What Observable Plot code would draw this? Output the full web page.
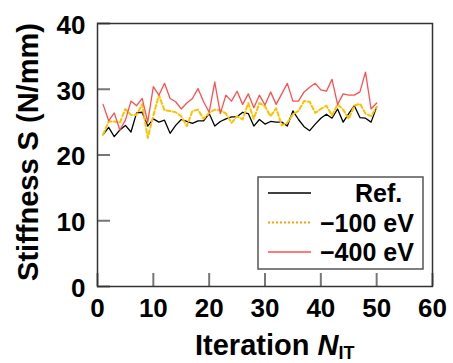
<!DOCTYPE html>
<html><head><meta charset="utf-8">
<script src="https://cdn.jsdelivr.net/npm/d3@7"></script>
<script src="https://cdn.jsdelivr.net/npm/@observablehq/plot@0.6"></script>
<style>html,body{margin:0;padding:0;background:#fff} svg{display:block}</style>
</head><body><div id="chart"></div>
<script>
const iterations = [1,2,3,4,5,6,7,8,9,10,11,12,13,14,15,16,17,18,19,20,21,22,23,24,25,26,27,28,29,30,31,32,33,34,35,36,37,38,39,40,41,42,43,44,45,46,47,48,49,50];
const refValues = [23.1,24.2,22.8,23.8,24.5,23.5,26.4,26.5,24.4,25.5,25.0,25.3,23.3,24.5,25.4,25.1,24.8,25.2,25.2,26.3,24.4,25.1,25.5,25.8,25.8,26.5,26.3,24.4,25.4,24.7,25.1,25.0,25.0,24.4,26.7,25.4,24.3,23.7,24.7,25.6,26.2,25.6,27.0,25.0,26.3,27.5,25.7,25.6,25.0,27.3];
const minus100Values = [23.1,25.1,25.1,24.9,27.0,26.1,26.1,27.7,22.6,26.0,29.1,26.8,26.7,26.5,25.9,24.4,26.7,26.9,25.5,26.4,26.9,26.8,26.3,24.9,25.9,25.4,27.9,25.5,27.9,27.4,25.9,27.1,24.5,24.9,26.2,26.7,28.2,28.1,26.4,27.0,27.5,26.0,27.7,26.9,25.5,27.5,27.8,26.3,25.9,27.3];
const minus400Values = [27.7,25.2,26.4,23.8,25.3,28.2,27.5,28.6,25.0,30.4,29.1,30.9,28.6,28.1,27.0,27.9,28.6,30.1,28.1,26.5,31.1,26.3,29.1,28.2,29.7,27.7,29.3,27.2,29.1,27.6,29.6,27.7,29.3,30.9,28.2,28.2,29.6,30.3,30.9,29.9,29.7,31.5,27.7,29.3,29.1,29.1,29.6,32.6,27.0,27.9];
const seriesNames = ["Ref.", "\u2212100 eV", "\u2212400 eV"];
const xTicks = [0,10,20,30,40,50,60];
const yTicks = [0,10,20,30,40];

const seriesValues = [refValues, minus100Values, minus400Values];
const styles = [
  {stroke: "#000000", strokeWidth: 1.3},
  {stroke: "#FFC000", strokeWidth: 2, strokeDasharray: "4,2.5"},
  {stroke: "#FF4F4F", strokeWidth: 1.3}
];
const rows = [];
seriesNames.forEach((name, s) => seriesValues[s].forEach((v, i) => rows.push({series: name, n: iterations[i], s: v})));

const font = "'Liberation Sans', Arial, sans-serif";
const chart = Plot.plot({
  width: 453, height: 363,
  marginLeft: 97, marginRight: 21, marginTop: 23, marginBottom: 77,
  style: {fontFamily: font, background: "#fff", color: "#000"},
  x: {domain: [0, 60]},
  y: {domain: [0, 40]},
  marks: [
    Plot.axisX({ticks: xTicks, tickSize: 0, tickPadding: 12, fontSize: 26, fontWeight: "bold", label: null}),
    Plot.axisY({ticks: yTicks, tickSize: 0, tickPadding: 12, fontSize: 26, fontWeight: "bold", label: null, dy: 2}),
    ...seriesNames.map((name, s) => Plot.lineY(rows.filter(d => d.series === name), {x: "n", y: "s", ...styles[s]})),
    Plot.axisX({ticks: xTicks, tickSize: 13, fill: "none", dy: -13, stroke: "#777", strokeWidth: 2, label: null}),
    Plot.axisY({ticks: yTicks, tickSize: 13, fill: "none", dx: 13, stroke: "#777", strokeWidth: 2, label: null}),
    Plot.frame({stroke: "#333", strokeWidth: 1.5})
  ]
});
document.getElementById("chart").appendChild(chart);

const svg = d3.select(chart);
// Y title
const yt = svg.append("text")
  .attr("transform", "translate(38,152) rotate(-90)")
  .attr("text-anchor", "middle")
  .style("font-family", font).style("font-size", "29px").style("font-weight", "bold").attr("fill", "#000");
yt.append("tspan").text("Stiffness S (N/mm)");
// X title
const xt = svg.append("text")
  .attr("x", 195).attr("y", 355).attr("text-anchor", "start")
  .style("font-family", font).style("font-size", "29px").style("font-weight", "bold").attr("fill", "#000");
xt.append("tspan").text("Iteration ");
xt.append("tspan").style("font-style", "italic").text("N");
xt.append("tspan").attr("dy", 4).style("font-size", "18px").text("IT");

// Legend
const lg = svg.append("g");
lg.append("rect").attr("x", 258).attr("y", 177).attr("width", 165).attr("height", 92)
  .attr("fill", "#fff").attr("stroke", "#555").attr("stroke-width", 1.5);
const legendLine = [
  {stroke: "#000", width: 1.5, dash: null},
  {stroke: "#FFA000", width: 2.2, dash: "2,2"},
  {stroke: "#FF4F4F", width: 1.5, dash: null}
];
const labelX = [355, 320, 320];
seriesNames.forEach((name, i) => {
  const cy = 193 + i * 29.5;
  lg.append("line").attr("x1", 268).attr("x2", 311).attr("y1", cy).attr("y2", cy)
    .attr("stroke", legendLine[i].stroke).attr("stroke-width", legendLine[i].width)
    .attr("stroke-dasharray", legendLine[i].dash);
  lg.append("text").attr("x", labelX[i]).attr("y", cy + 9).attr("text-anchor", "start")
    .style("font-family", font).style("font-size", "25px").style("font-weight", "bold").attr("fill", "#000")
    .text(name);
});
</script>
</body></html>
